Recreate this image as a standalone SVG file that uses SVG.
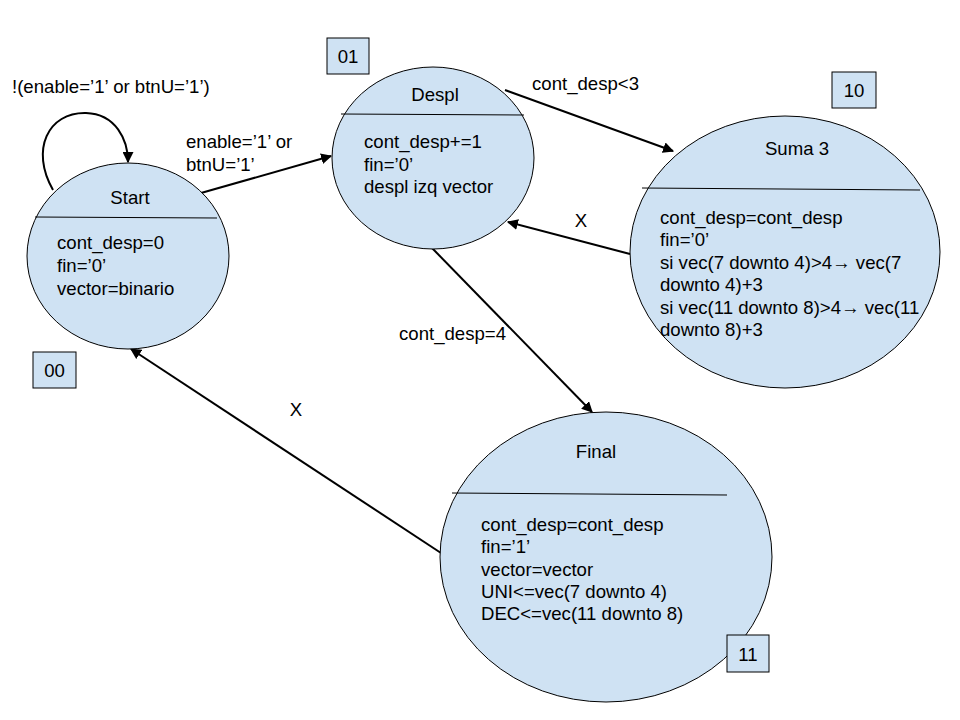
<svg xmlns="http://www.w3.org/2000/svg" width="960" height="720" viewBox="0 0 960 720">
  <defs>
    <marker id="arrow" viewBox="0 0 10 10" refX="9" refY="5" markerWidth="5.5" markerHeight="5.5" orient="auto" markerUnits="strokeWidth">
      <path d="M0,0 L10,5 L0,10 Z" fill="#000"/>
    </marker>
  </defs>
  <style>
    .state { fill: #cfe2f3; stroke: #000; stroke-width: 1; }
    .div { stroke: #000; stroke-width: 1; }
    .code { fill: #cfe2f3; stroke: #000; stroke-width: 1; }
    text { font-family: "Liberation Sans", Arial, sans-serif; font-size: 18.6px; fill: #000; }
    .mid { text-anchor: middle; }
    .edge { fill: none; stroke: #000; stroke-width: 2; marker-end: url(#arrow); }
  </style>
  <rect width="960" height="720" fill="#fff"/>

  <!-- transitions -->
  <g id="connectors">
    <path class="edge" d="M53,190 C30,150 48,112 86,113 C116,114 128,140 128,162"/>
    <path class="edge" d="M201,193 L331,156"/>
    <path class="edge" d="M505,90 L673,151"/>
    <path class="edge" d="M630,254 L508,222"/>
    <path class="edge" d="M432,248 L592,412"/>
    <path class="edge" d="M441,553 L131,349"/>
    <text x="12" y="93">!(enable=’1’ or btnU=’1’)</text>
    <text x="186" y="148">enable=’1’ or</text>
    <text x="186" y="171">btnU=’1’</text>
    <text x="532" y="90">cont_desp&lt;3</text>
    <text x="581" y="227" class="mid">X</text>
    <text x="399" y="340">cont_desp=4</text>
    <text x="296" y="416" class="mid">X</text>
  </g>

  <!-- state 00 -->
  <g id="start">
    <ellipse class="state" cx="128" cy="256" rx="101" ry="93"/>
    <line class="div" x1="35" y1="217" x2="217" y2="218"/>
    <text x="130" y="204" class="mid">Start</text>
    <text x="57" y="249">cont_desp=0</text>
    <text x="57" y="272">fin=’0’</text>
    <text x="57" y="295">vector=binario</text>
    <rect class="code" x="33" y="352" width="43" height="36"/>
    <text x="54.5" y="377" class="mid">00</text>
  </g>

  <!-- state 01 -->
  <g id="despl">
    <ellipse class="state" cx="433" cy="158" rx="101" ry="91"/>
    <line class="div" x1="341" y1="114" x2="524" y2="115"/>
    <text x="435" y="101" class="mid">Despl</text>
    <text x="364" y="148">cont_desp+=1</text>
    <text x="364" y="171">fin=’0’</text>
    <text x="364" y="193">despl izq vector</text>
    <rect class="code" x="327" y="38" width="42" height="36"/>
    <text x="348" y="63" class="mid">01</text>
  </g>

  <!-- state 10 -->
  <g id="suma3">
    <ellipse class="state" cx="785" cy="252" rx="155" ry="136"/>
    <line class="div" x1="642" y1="188" x2="920" y2="190"/>
    <text x="797" y="155" class="mid">Suma 3</text>
    <text x="660" y="224">cont_desp=cont_desp</text>
    <text x="660" y="246">fin=’0’</text>
    <text x="660" y="269">si vec(7 downto 4)&gt;4→ vec(7</text>
    <text x="660" y="291">downto 4)+3</text>
    <text x="660" y="314">si vec(11 downto 8)&gt;4→ vec(11</text>
    <text x="660" y="336">downto 8)+3</text>
    <rect class="code" x="832" y="72" width="44" height="36"/>
    <text x="854" y="97" class="mid">10</text>
  </g>

  <!-- state 11 -->
  <g id="final">
    <ellipse class="state" cx="606" cy="557" rx="166" ry="145"/>
    <line class="div" x1="452" y1="493" x2="727" y2="495"/>
    <text x="596" y="458" class="mid">Final</text>
    <text x="481" y="531">cont_desp=cont_desp</text>
    <text x="481" y="553">fin=’1’</text>
    <text x="481" y="576">vector=vector</text>
    <text x="481" y="598">UNI&lt;=vec(7 downto 4)</text>
    <text x="481" y="620">DEC&lt;=vec(11 downto 8)</text>
    <rect class="code" x="727" y="635" width="42" height="37"/>
    <text x="748" y="661" class="mid">11</text>
  </g>
</svg>
